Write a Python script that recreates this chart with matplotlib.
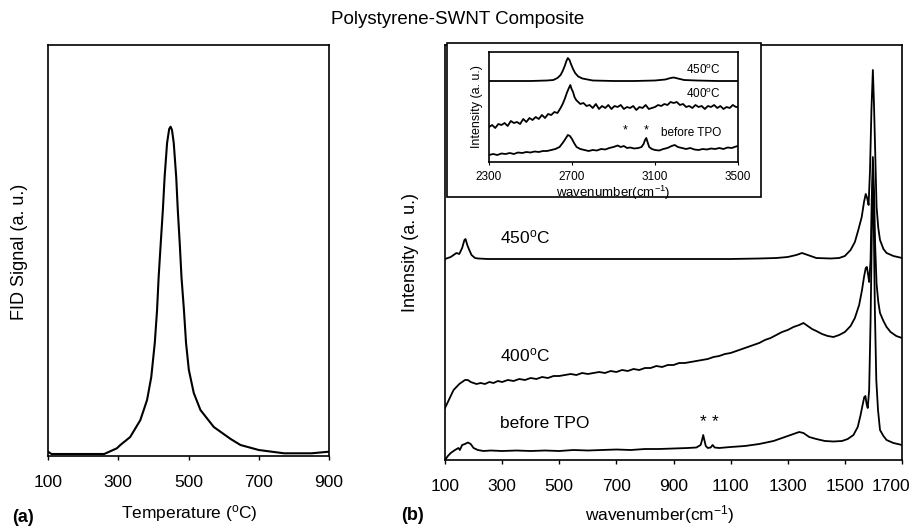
import matplotlib
matplotlib.use("Agg")
import matplotlib.pyplot as plt
from matplotlib.patches import Rectangle
from matplotlib.transforms import ScaledTranslation

plt.rcParams['font.family'] = ['Liberation Sans', 'DejaVu Sans']
plt.rcParams['mathtext.default'] = 'regular'

# ---------------- data ----------------
# (a) TPO / FID signal
temp = [100, 110, 260, 296, 306, 334, 363, 382, 394, 404, 410.5, 415, 421, 427, 432, 439,
        445, 449, 453, 458, 465, 469.5, 475, 480, 487, 493, 501, 515, 534, 572, 620, 648,
        700, 772, 850, 900]
fid = [4.3, 2, 2, 7.7, 11, 19, 36, 56, 79, 113, 146, 179, 213, 246, 279, 313,
       327, 329.3, 326, 313, 279, 246, 213, 179, 146, 113, 86, 63, 46, 29, 17, 11,
       6, 2.7, 2.7, 4.3]
temp_ticks = [100, 300, 500, 700, 900]

# (b) Raman spectra, main panel
wn_450 = [100, 120, 130, 140, 150, 160, 168, 172, 178, 185, 193, 205, 216, 250, 400, 600,
          800, 1000, 1100, 1200, 1260, 1300, 1330, 1350, 1370, 1400, 1450, 1480, 1500, 1520,
          1535, 1547, 1559, 1567, 1573, 1578, 1583, 1588, 1593, 1598, 1602, 1606, 1611,
          1617, 1623, 1635, 1646, 1670, 1700]
int_450 = [201, 203, 205, 207, 206, 212, 220, 221, 215, 210, 205, 202, 201.5, 201, 201, 201,
           201, 201, 201, 201.5, 202, 203, 205, 207, 205, 202, 201.5, 202, 204, 210,
           218, 230, 243, 258, 266, 262, 255, 290, 350, 390, 355, 310, 253,
           232, 220, 211, 207, 204, 202]

wn_400 = [100, 110, 120, 130, 140, 150, 160, 170, 180, 190, 200, 210, 225, 240, 255, 270,
          285, 300, 320, 340, 360, 380, 400, 420, 440, 460, 480, 500, 520, 540, 560, 580,
          600, 620, 640, 660, 680, 700, 720, 740, 760, 780, 800, 820, 840, 860, 880, 900,
          920, 940, 960, 980, 1000, 1020, 1040, 1060, 1080, 1100, 1120, 1140, 1160, 1180,
          1200, 1220, 1240, 1260, 1280, 1300, 1320, 1340, 1355, 1370, 1385, 1400, 1420,
          1440, 1460, 1480, 1500, 1520, 1535, 1550, 1560, 1567, 1573, 1577, 1581, 1585,
          1590, 1594, 1598, 1602, 1606, 1611, 1617, 1623, 1635, 1646, 1660, 1680, 1700]
int_400 = [52, 58, 64, 70, 73, 76, 78, 80, 80, 78, 77, 76, 77, 76, 78, 77,
           79, 78, 80, 79, 81, 80, 82, 81, 83, 82, 84, 84, 85, 86, 85, 87,
           86, 87, 88, 87, 89, 88, 90, 89, 91, 90, 92, 92, 94, 93, 95, 95,
           97, 97, 98, 99, 100, 101, 103, 104, 106, 107, 109, 111, 113, 115,
           117, 120, 122, 125, 128, 130, 133, 135, 137, 134, 131, 129, 126,
           124, 123, 125, 128, 134, 142, 155, 170, 183, 192, 193, 186, 178,
           200, 260, 303, 270, 215, 176, 158, 147, 139, 133, 128, 124, 122]

wn_pre = [100, 110, 120, 135, 147, 152, 160, 170, 180, 190, 200, 215, 235, 260, 300, 350,
          400, 450, 500, 550, 600, 650, 700, 750, 800, 850, 900, 950, 980, 995, 1000, 1004,
          1008, 1013, 1020, 1030, 1037, 1044, 1060, 1100, 1150, 1200, 1250, 1290, 1320,
          1340, 1355, 1375, 1400, 1430, 1460, 1490, 1510, 1530, 1545, 1555, 1562, 1568,
          1572, 1576, 1580, 1585, 1590, 1595, 1598, 1601, 1605, 1610, 1616, 1623, 1635,
          1646, 1670, 1700]
int_pre = [0, 4, 7, 10, 12, 10, 15, 16, 17.5, 16, 12, 10, 9, 9.5, 9, 9.5,
           9, 9.5, 9, 10, 9.5, 10, 10.5, 10, 11, 11, 11.5, 12, 12.5, 15, 20, 25,
           20, 14, 12, 12.5, 15, 12.5, 12, 13, 14, 16, 19, 23, 26,
           28, 27, 23, 21, 19, 18.5, 19, 21, 25, 33, 45, 55, 63,
           64, 56, 52, 70, 140, 240, 285, 240, 150, 80, 50, 30, 24,
           20, 17, 15]
wn_ticks = [100, 300, 500, 700, 900, 1100, 1300, 1500, 1700]

# (b) inset: 2D region
iw_450 = [2300, 2400, 2500, 2580, 2610, 2630, 2645, 2655, 2665, 2673, 2680, 2688, 2695, 2705,
          2715, 2730, 2750, 2775, 2800, 2900, 3000, 3100, 3150, 3175, 3190, 3210, 3240, 3300,
          3400, 3500]
ii_450 = [81, 81, 81, 81.5, 82, 84, 87, 91, 96, 101, 104, 102, 98, 93,
          89, 85.5, 83.5, 82.5, 81.5, 81, 81, 81.5, 82.5, 84, 84.5, 83.5, 82, 81.5,
          81, 81]

iw_400 = [2300, 2315, 2330, 2345, 2360, 2375, 2390, 2405, 2420, 2435, 2450, 2465, 2480, 2495,
          2510, 2525, 2540, 2555, 2570, 2585, 2600, 2615, 2630, 2645, 2655, 2665, 2675, 2685,
          2692, 2698, 2705, 2712, 2720, 2730, 2740, 2755, 2770, 2785, 2800, 2815, 2830, 2845,
          2860, 2875, 2890, 2905, 2920, 2935, 2950, 2965, 2980, 2995, 3010, 3025, 3040, 3055,
          3070, 3085, 3100, 3115, 3130, 3145, 3160, 3175, 3190, 3205, 3220, 3235, 3250, 3265,
          3280, 3295, 3310, 3325, 3340, 3355, 3370, 3385, 3400, 3415, 3430, 3445, 3460, 3475,
          3490, 3500]
ii_400 = [35, 37, 34, 38, 37, 39, 36, 41, 39, 40, 38, 43, 40, 44,
          42, 45, 43, 47, 44, 48, 47, 50, 49, 54, 58, 63, 69, 74,
          77, 73, 70, 65, 62, 60, 58, 59, 56, 57, 54, 58, 53, 56,
          54, 57, 53, 56, 55, 57, 53, 55, 54, 56, 52, 55, 54, 57,
          53, 54, 55, 57, 56, 58, 57, 60, 59, 60, 57, 58, 55, 56,
          54, 57, 55, 56, 53, 56, 55, 57, 54, 56, 53, 55, 54, 57,
          55, 55]

iw_pre = [2300, 2320, 2340, 2360, 2380, 2400, 2420, 2440, 2460, 2480, 2500, 2520, 2540, 2560,
          2580, 2600, 2620, 2640, 2655, 2668, 2680, 2690, 2700, 2710, 2722, 2740, 2760, 2780,
          2800, 2820, 2840, 2860, 2880, 2900, 2920, 2935, 2950, 2965, 2980, 3000, 3020, 3035,
          3045, 3052, 3058, 3064, 3072, 3085, 3100, 3120, 3140, 3160, 3180, 3195, 3210, 3230,
          3250, 3270, 3290, 3310, 3330, 3350, 3370, 3390, 3410, 3430, 3450, 3470, 3490, 3500]
ii_pre = [7, 8, 7, 8.5, 8, 9, 8, 9.5, 9, 10, 9.5, 10.5, 10, 11,
          11, 12, 13, 15, 19, 23, 27, 26, 23, 19, 15, 13, 12, 11,
          12, 11.5, 13, 12.5, 14, 15, 16.5, 15, 16, 14, 14.5, 13.5, 14, 15,
          18, 22, 24, 20, 15, 13, 12, 11.5, 13, 14, 16, 17, 15, 14,
          13, 14, 12.5, 12, 13, 12.5, 13.5, 13, 14, 13, 14.5, 14, 15.5, 16]
inset_ticks = [2300, 2700, 3100, 3500]

# ---------------- figure ----------------
W, H = 922, 529
fig = plt.figure(figsize=(W / 100, H / 100), dpi=100)


def box(x0, y0, x1, y1):
    return [x0 / W, 1 - y1 / H, (x1 - x0) / W, (y1 - y0) / H]


def ft(px, py, s, **kw):
    fig.text(px / W, 1 - py / H, s, **kw)


tick_kw = dict(direction='out', length=3, width=1, pad=11, labelsize=12.5)

# (a)
axa = fig.add_axes(box(48, 45, 329, 456))
axa.plot(temp, fid, color='black', lw=1.5)
axa.set_xlim(100, 900)
axa.set_ylim(0, 411)
axa.set_xticks(temp_ticks)
axa.set_yticks([])
axa.tick_params(axis='x', **tick_kw)
for s in axa.spines.values():
    s.set_linewidth(1.2)

# (b)
axb = fig.add_axes(box(445, 45, 902, 460))
for x, y in [(wn_450, int_450), (wn_400, int_400), (wn_pre, int_pre)]:
    axb.plot(x, y, color='black', lw=1.3)
axb.set_xlim(100, 1700)
axb.set_ylim(0, 415)
axb.set_xticks(wn_ticks)
axb.set_yticks([])
axb.tick_params(axis='x', **tick_kw)
for s in axb.spines.values():
    s.set_linewidth(1.2)
last = axb.get_xticklabels()[-1]
last.set_transform(last.get_transform() + ScaledTranslation(-0.11, 0, fig.dpi_scale_trans))
axb.text(293, 223, '450$^{o}$C', fontsize=12.5, va='center', ha='left')
axb.text(293, 105, '400$^{o}$C', fontsize=12.5, va='center', ha='left')
axb.text(293, 36, 'before TPO', fontsize=12.5, va='center', ha='left')
axb.text(1005, 38, '*', fontsize=12.5, va='center', ha='center')
axb.text(1045, 38, '*', fontsize=12.5, va='center', ha='center')

# inset frame
fig.patches.append(Rectangle((447 / W, 1 - 197 / H), (761 - 447) / W, (197 - 43) / H,
                             transform=fig.transFigure, facecolor='white',
                             edgecolor='black', lw=1.2, zorder=2))

axi = fig.add_axes(box(489, 52, 738, 162), zorder=3)
for x, y in [(iw_450, ii_450), (iw_400, ii_400), (iw_pre, ii_pre)]:
    axi.plot(x, y, color='black', lw=1.3)
axi.set_xlim(2300, 3500)
axi.set_ylim(0, 110)
axi.set_xticks(inset_ticks)
axi.set_yticks([])
axi.tick_params(axis='x', direction='out', length=2, width=0.8, pad=4.5, labelsize=8.5)
for s in axi.spines.values():
    s.set_linewidth(1.2)
axi.text(3415, 92, '450$^{o}$C', fontsize=8.5, va='center', ha='right')
axi.text(3415, 67.5, '400$^{o}$C', fontsize=8.5, va='center', ha='right')
axi.text(3418, 29, 'before TPO', fontsize=8.5, va='center', ha='right')
axi.text(2955, 32, '*', fontsize=9, va='center', ha='center')
axi.text(3057, 32, '*', fontsize=9, va='center', ha='center')

# texts
ft(458, 20, 'Polystyrene-SWNT Composite', fontsize=13.5, ha='center', va='center')
ft(20, 252, 'FID Signal (a. u.)', fontsize=13, rotation=90, ha='center', va='center')
ft(189, 513, 'Temperature ($^{o}$C)', fontsize=12.5, ha='center', va='center')
ft(23, 518, '(a)', fontsize=13, fontweight='bold', ha='center', va='center')
ft(412, 516, '(b)', fontsize=13, fontweight='bold', ha='center', va='center')
ft(410, 252, 'Intensity (a. u.)', fontsize=13, rotation=90, ha='center', va='center')
ft(660, 515, 'wavenumber(cm$^{-1}$)', fontsize=12.5, ha='center', va='center')
ft(477, 107, 'Intensity (a. u.)', fontsize=9, rotation=90, ha='center', va='center')
ft(613, 193, 'wavenumber(cm$^{-1}$)', fontsize=9.5, ha='center', va='center')

fig.savefig('out.png', dpi=100)
